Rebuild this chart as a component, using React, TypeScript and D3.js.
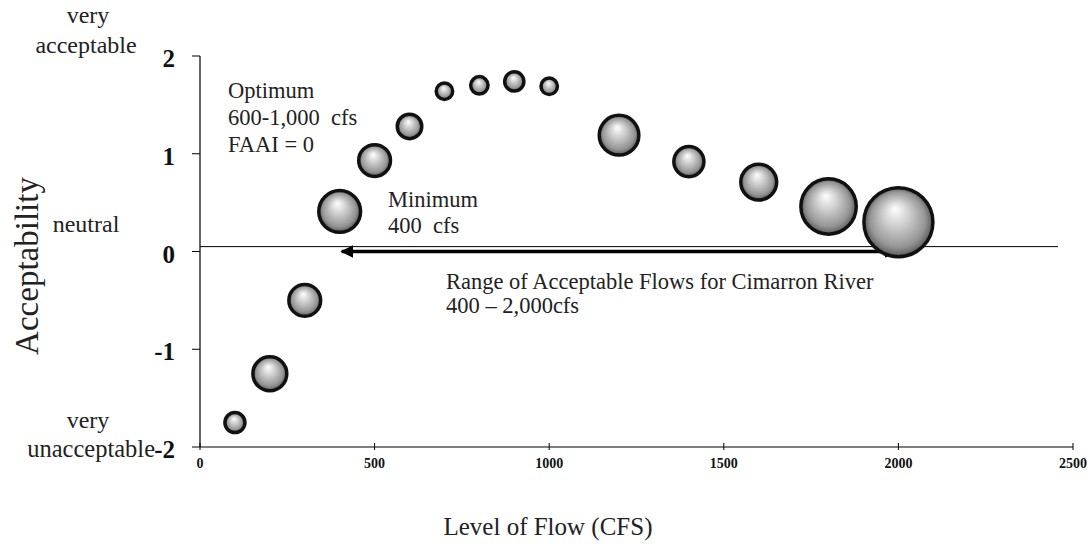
import React from "react";
import * as d3 from "d3";

const flows = [100, 200, 300, 400, 500, 600, 700, 800, 900, 1000, 1200, 1400, 1600, 1800, 2000];
const acceptability = [-1.75, -1.25, -0.5, 0.41, 0.93, 1.28, 1.64, 1.7, 1.74, 1.69, 1.19, 0.92, 0.71, 0.46, 0.3];
const bubbleSizes = [1.4, 3.6, 3.2, 5.3, 3.2, 2.0, 1.0, 1.1, 1.3, 1.0, 4.8, 2.9, 4.0, 9.0, 13.7];
const xTicks = [0, 500, 1000, 1500, 2000, 2500];
const yTicks = [2, 1, 0, -1, -2];
const neutralLine = 0.05;
const rangeArrow = [400, 2000];
const rangeArrowY = 0.0;

const W = 1090;
const H = 544;

export default function App() {
  const x = d3.scaleLinear().domain([0, 2500]).range([200, 1073]);
  const y = d3.scaleLinear().domain([-2, 2]).range([447, 56]);
  const r = d3.scaleSqrt().domain([0, d3.max(bubbleSizes) as number]).range([0, 36]);
  const serif = "'Liberation Serif', 'Times New Roman', serif";

  return (
    <svg width={W} height={H} style={{ position: "absolute", left: 0, top: 0, background: "#fff" }} fontFamily={serif}>
      <defs>
        <radialGradient id="sphere" cx="0.5" cy="0.5" r="0.5" fx="0.45" fy="0.3">
          <stop offset="0" stopColor="#ffffff" />
          <stop offset="0.35" stopColor="#d2d2d2" />
          <stop offset="0.8" stopColor="#959595" />
          <stop offset="1" stopColor="#5a5a5a" />
        </radialGradient>
        <marker id="ah" viewBox="0 0 10 10" refX="9" refY="5" markerWidth="3.6" markerHeight="3.6" orient="auto-start-reverse" markerUnits="strokeWidth">
          <path d="M0,0 L10,5 L0,10 z" fill="#000" />
        </marker>
      </defs>

      {/* y axis */}
      <line x1={200} x2={200} y1={y(2)} y2={y(-2)} stroke="#000" strokeWidth={1.2} />
      {yTicks.map((t) => (
        <g key={t}>
          <line x1={192} x2={200} y1={y(t)} y2={y(t)} stroke="#000" strokeWidth={1} />
          <text x={175} y={y(t) + 11} textAnchor="end" fontWeight="bold" fontSize={25} fill="#111">
            {t}
          </text>
        </g>
      ))}
      {/* x axis */}
      <line x1={200} x2={x(2500)} y1={y(-2)} y2={y(-2)} stroke="#000" strokeWidth={1.2} />
      {xTicks.map((t) => (
        <g key={t}>
          <line x1={x(t)} x2={x(t)} y1={y(-2) - 4} y2={y(-2) + 3} stroke="#000" strokeWidth={1} />
          <text x={x(t)} y={y(-2) + 21} textAnchor="middle" fontWeight="bold" fontSize={14} fill="#111">
            {t}
          </text>
        </g>
      ))}

      {/* neutral line */}
      <line x1={200} x2={1058} y1={y(neutralLine)} y2={y(neutralLine)} stroke="#000" strokeWidth={1} />

      {/* range arrow */}
      <line
        x1={x(rangeArrow[0]) + 2}
        x2={x(rangeArrow[1]) - 2}
        y1={y(rangeArrowY)}
        y2={y(rangeArrowY)}
        stroke="#000"
        strokeWidth={3.5}
        markerStart="url(#ah)"
        markerEnd="url(#ah)"
      />

      {/* bubbles */}
      {flows.map((f, i) => (
        <circle
          key={f}
          cx={x(f)}
          cy={y(acceptability[i])}
          r={r(bubbleSizes[i]) - 1.5}
          fill="url(#sphere)"
          stroke="#111"
          strokeWidth={3.5}
        />
      ))}

      {/* annotations */}
      <g fontSize={22.5} fill="#222">
        <text x={228} y={98}>Optimum</text>
        <text x={228} y={125}>600-1,000&#160; cfs</text>
        <text x={228} y={152}>FAAI = 0</text>
        <text x={388} y={207}>Minimum</text>
        <text x={388} y={233}>400&#160; cfs</text>
        <text x={446} y={289}>Range of Acceptable Flows for Cimarron River</text>
        <text x={446} y={313}>400 – 2,000cfs</text>
      </g>

      <g fontSize={24} fill="#222" textAnchor="middle">
        <text x={88} y={23}>very</text>
        <text x={86} y={53}>acceptable</text>
        <text x={86} y={232}>neutral</text>
        <text x={88} y={428}>very</text>
      </g>
      <text x={155} y={457} fontSize={24.5} fill="#222" textAnchor="end">unacceptable</text>

      <text
        transform={`translate(38,${266}) rotate(-90)`}
        textAnchor="middle"
        fontSize={33}
        fill="#222"
      >
        Acceptability
      </text>
      <text x={548} y={535} textAnchor="middle" fontSize={25} fill="#222">
        Level of Flow (CFS)
      </text>
    </svg>
  );
}
